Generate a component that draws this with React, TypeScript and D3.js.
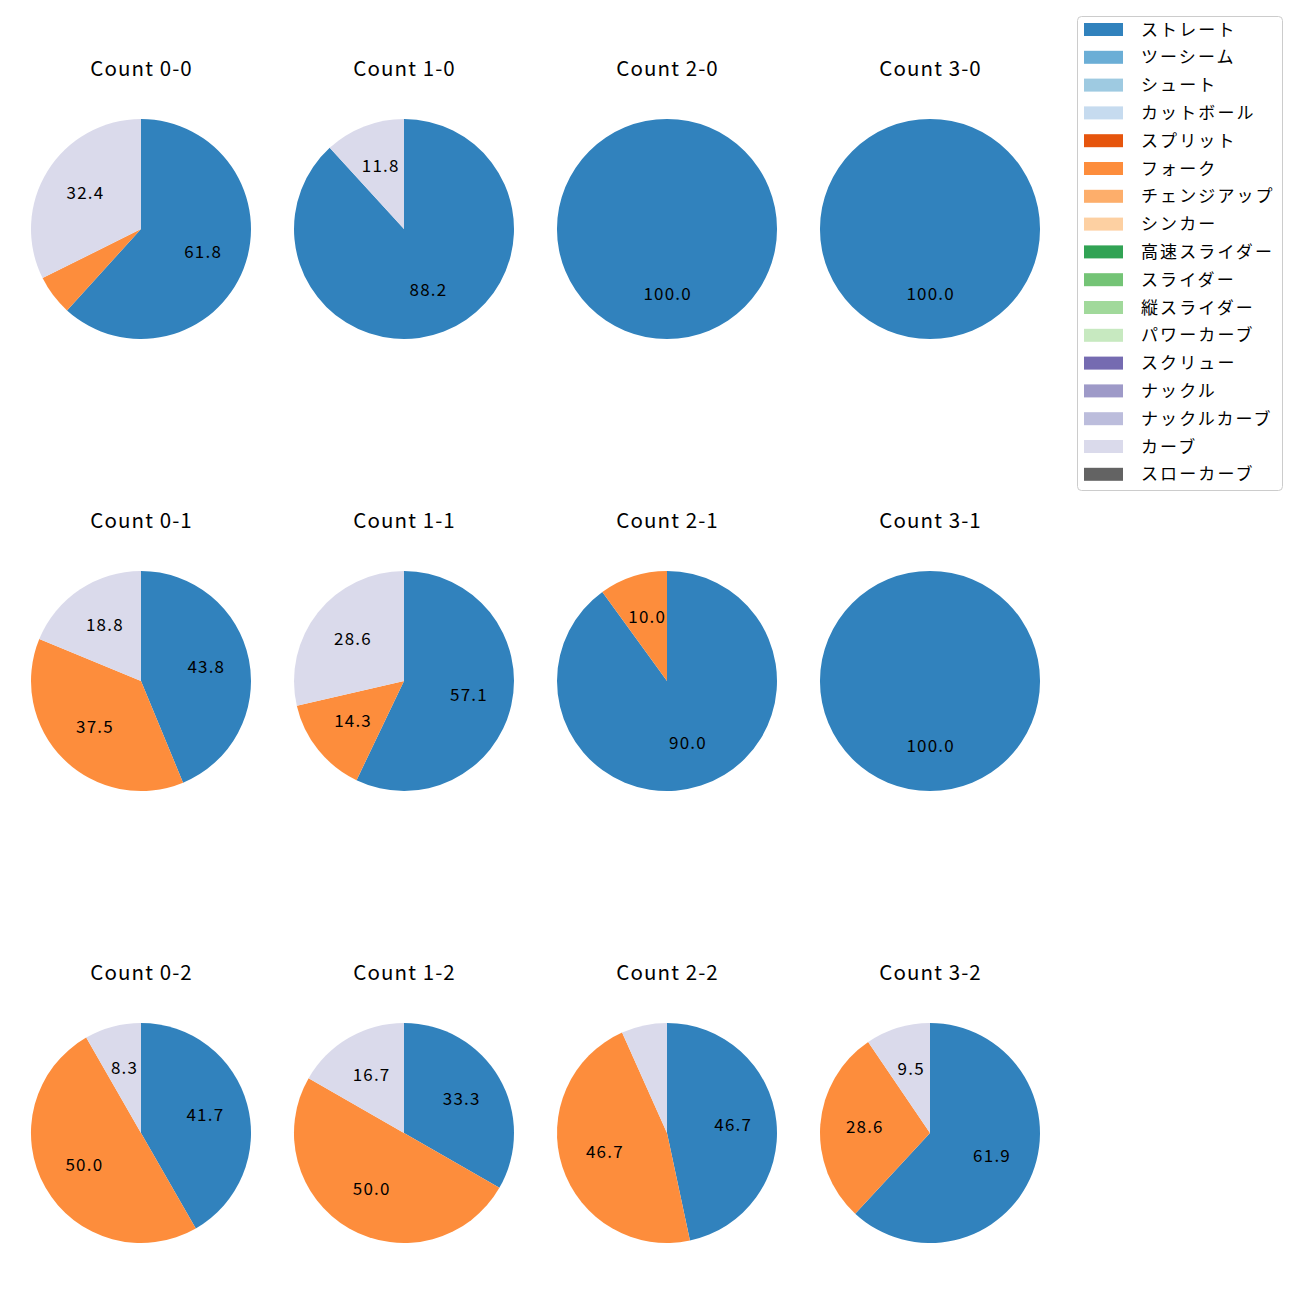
import React from "react";
import * as d3 from "d3";

const pitchTypes = [
  "ストレート", "ツーシーム", "シュート", "カットボール", "スプリット", "フォーク",
  "チェンジアップ", "シンカー", "高速スライダー", "スライダー", "縦スライダー",
  "パワーカーブ", "スクリュー", "ナックル", "ナックルカーブ", "カーブ", "スローカーブ",
];
const pitchColors = [
  "#3182bd", "#6baed6", "#9ecae1", "#c6dbef", "#e6550d", "#fd8d3c", "#fdae6b",
  "#fdd0a2", "#31a354", "#74c476", "#a1d99b", "#c7e9c0", "#756bb1", "#9e9ac8",
  "#bcbddc", "#dadaeb", "#636363",
];

// counts: balls (columns) - strikes (rows)
const countLabels = [
  ["0-0", "1-0", "2-0", "3-0"],
  ["0-1", "1-1", "2-1", "3-1"],
  ["0-2", "1-2", "2-2", "3-2"],
];
// shares per count: [pitch name, percent]
const count00 = [["ストレート", 61.8], ["フォーク", 5.9], ["カーブ", 32.4]];
const count10 = [["ストレート", 88.2], ["カーブ", 11.8]];
const count20 = [["ストレート", 100]];
const count30 = [["ストレート", 100]];
const count01 = [["ストレート", 43.8], ["フォーク", 37.5], ["カーブ", 18.8]];
const count11 = [["ストレート", 57.1], ["フォーク", 14.3], ["カーブ", 28.6]];
const count21 = [["ストレート", 90.0], ["フォーク", 10.0]];
const count31 = [["ストレート", 100]];
const count02 = [["ストレート", 41.7], ["フォーク", 50.0], ["カーブ", 8.3]];
const count12 = [["ストレート", 33.3], ["フォーク", 50.0], ["カーブ", 16.7]];
const count22 = [["ストレート", 46.7], ["フォーク", 46.7], ["カーブ", 6.7]];
const count32 = [["ストレート", 61.9], ["フォーク", 28.6], ["カーブ", 9.5]];

const countData: (string | number)[][][][] = [
  [count00, count10, count20, count30],
  [count01, count11, count21, count31],
  [count02, count12, count22, count32],
];

const FONT = "'Noto Sans CJK JP', 'Noto Sans', sans-serif";

export default function App() {
  const W = 1300, H = 1300;
  const colX = d3.scalePoint<number>().domain([0, 1, 2, 3]).range([141, 930]);
  const rowY = d3.scalePoint<number>().domain([0, 1, 2]).range([229, 1133]);
  const R = 110;
  const color = d3.scaleOrdinal<string, string>().domain(pitchTypes).range(pitchColors);
  const pie = d3.pie<(string | number)[]>().sort(null).value((d) => d[1] as number);
  const arc = d3.arc<d3.PieArcDatum<(string | number)[]>>().innerRadius(0).outerRadius(R);
  const labelArc = d3.arc<d3.PieArcDatum<(string | number)[]>>().innerRadius(R * 0.6).outerRadius(R * 0.6);

  const legendY = d3.scaleLinear().domain([0, 1]).range([29, 29 + 27.8]);

  return (
    <svg width={W} height={H} style={{ position: "absolute", left: 0, top: 0 }} fontFamily={FONT}>
      <rect width={W} height={H} fill="white" />
      {countData.map((row, ri) =>
        row.map((data, ci) => {
          const cx = colX(ci)!;
          const cy = rowY(ri)!;
          const arcs = pie(data);
          return (
            <g key={`${ri}-${ci}`}>
              <text x={cx + 0.6} y={cy - 162} textAnchor="middle" dominantBaseline="central" fontSize={20.5} letterSpacing={1.1} fill="#000">
                {`Count ${countLabels[ri][ci]}`}
              </text>
              <g transform={`translate(${cx},${cy})`}>
                {arcs.map((a, i) => (
                  <path key={i} d={arc(a)!} fill={color(a.data[0] as string)} />
                ))}
                {arcs.map((a, i) => {
                  const v = a.data[1] as number;
                  if (v < 8) return null;
                  const [lx, ly] = labelArc.centroid(a);
                  return (
                    <text key={`l${i}`} x={lx + 0.6} y={ly - 2.5} textAnchor="middle" dominantBaseline="central" fontSize={17} letterSpacing={1.2} fill="#000">
                      {v.toFixed(1)}
                    </text>
                  );
                })}
              </g>
            </g>
          );
        })
      )}
      <g>
        <rect x={1077.5} y={16.5} width={205} height={474} rx={4} fill="white" stroke="#cccccc" strokeWidth={1} />
        {pitchTypes.map((p, i) => (
          <g key={p}>
            <rect x={1084} y={legendY(i) - 6} width={39} height={13} fill={color(p)} />
            <text x={1141} y={legendY(i) - 1} dominantBaseline="central" fontSize={17} letterSpacing={2.1} fill="#000">
              {p}
            </text>
          </g>
        ))}
      </g>
    </svg>
  );
}
